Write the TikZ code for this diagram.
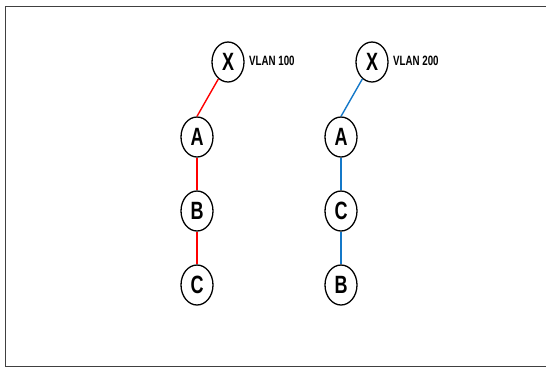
\documentclass[tikz,border=0pt]{standalone}
\usepackage{fontspec}
\usetikzlibrary{shapes.geometric}
\newfontfamily\narrowfont[FakeStretch=0.72]{Liberation Sans}
\definecolor{vred}{RGB}{255,0,0}
\definecolor{vblue}{RGB}{20,120,200}
\begin{document}
\begin{tikzpicture}[x=1pt,y=-1pt,
  sw/.style={draw=black,line width=1.3pt,ellipse,minimum width=32pt,minimum height=40pt,inner sep=0pt,
    font=\narrowfont\bfseries\fontsize{25}{25}\selectfont},
  lbl/.style={anchor=west,inner sep=0pt,font=\narrowfont\bfseries\fontsize{13.5}{14}\selectfont},
  redl/.style={draw=vred,line width=1.4pt},
  bluel/.style={draw=vblue,line width=1.4pt}]
\useasboundingbox (0,0) rectangle (546,367);
\draw[draw=black!75,line width=0.8pt] (5,6) -- (560,6) (5,6) -- (5,366) -- (560,366);
% left tree
\node[sw] (X1) at (228,62) {X};
\node[sw] (A1) at (197,137) {A};
\node[sw] (B1) at (197,211) {B};
\node[sw] (C1) at (197,285) {C};
\node[lbl] (L1) at (249,61) {VLAN 100};
\draw[redl] (X1) -- (A1.north);
\draw[redl] (A1) -- (B1);
\draw[redl] (B1) -- (C1);
% right tree
\node[sw] (X2) at (372,62) {X};
\node[sw] (A2) at (341,137) {A};
\node[sw] (C2) at (341,211) {C};
\node[sw] (B2) at (341,285) {B};
\node[lbl] (L2) at (393,61) {VLAN 200};
\draw[bluel] (X2) -- (A2.north);
\draw[bluel] (A2) -- (C2);
\draw[bluel] (C2) -- (B2);
\end{tikzpicture}
\end{document}
